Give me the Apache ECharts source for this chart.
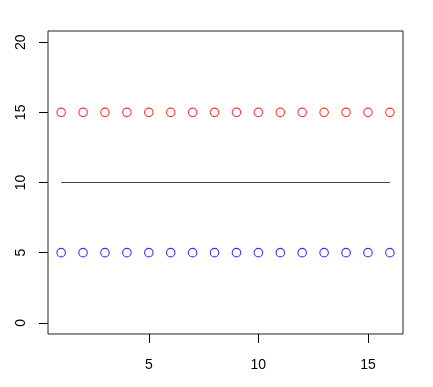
<!DOCTYPE html>
<html><head><meta charset="utf-8">
<script src="https://cdn.jsdelivr.net/npm/echarts@6/dist/echarts.min.js"></script>
<style>html,body{margin:0;padding:0;background:#fff}#c{width:433px;height:387px}</style>
</head><body><div id="c"></div>
<script>
const xs = [1,2,3,4,5,6,7,8,9,10,11,12,13,14,15,16];
const redValues = [15,15,15,15,15,15,15,15,15,15,15,15,15,15,15,15];
const blueValues = [5,5,5,5,5,5,5,5,5,5,5,5,5,5,5,5];
const lineValues = [10,10,10,10,10,10,10,10,10,10,10,10,10,10,10,10];
const xTicks = [5,10,15];
const yTicks = [0,5,10,15,20];

const pair = v => xs.map((x,i)=>[x,v[i]]);
const font = 'Liberation Sans, Arial, sans-serif';
const chart = echarts.init(document.getElementById('c'), null, {renderer:'canvas'});
chart.setOption({
  animation:false,
  backgroundColor:'#fff',
  grid:{left:48,right:30,top:31,bottom:53,show:true,borderColor:'#222',borderWidth:1,backgroundColor:'transparent'},
  xAxis:{type:'value',min:0.4,max:16.6,
    axisLine:{show:false,onZero:false},splitLine:{show:false},
    axisTick:{show:true,inside:false,length:9,customValues:xTicks,lineStyle:{color:'#000'}},
    axisLabel:{customValues:xTicks,margin:24,color:'#000',fontSize:14,fontFamily:font}},
  yAxis:{type:'value',min:-0.8,max:20.8,
    axisLine:{show:false,onZero:false},splitLine:{show:false},
    axisTick:{show:true,inside:false,length:9,customValues:yTicks,lineStyle:{color:'#000'}},
    axisLabel:{customValues:yTicks,margin:20,rotate:90,color:'#000',fontSize:14,fontFamily:font}},
  series:[
    {type:'line',data:pair(lineValues),showSymbol:false,symbol:'none',lineStyle:{color:'#444',width:1.2}},
    {type:'scatter',data:pair(redValues),symbol:'circle',symbolSize:8.5,itemStyle:{color:'rgba(255,255,255,0)',borderColor:'#ff0000',borderWidth:1.1}},
    {type:'scatter',data:pair(blueValues),symbol:'circle',symbolSize:8.5,itemStyle:{color:'rgba(255,255,255,0)',borderColor:'#0000ff',borderWidth:1.1}}
  ]
});
</script></body></html>
